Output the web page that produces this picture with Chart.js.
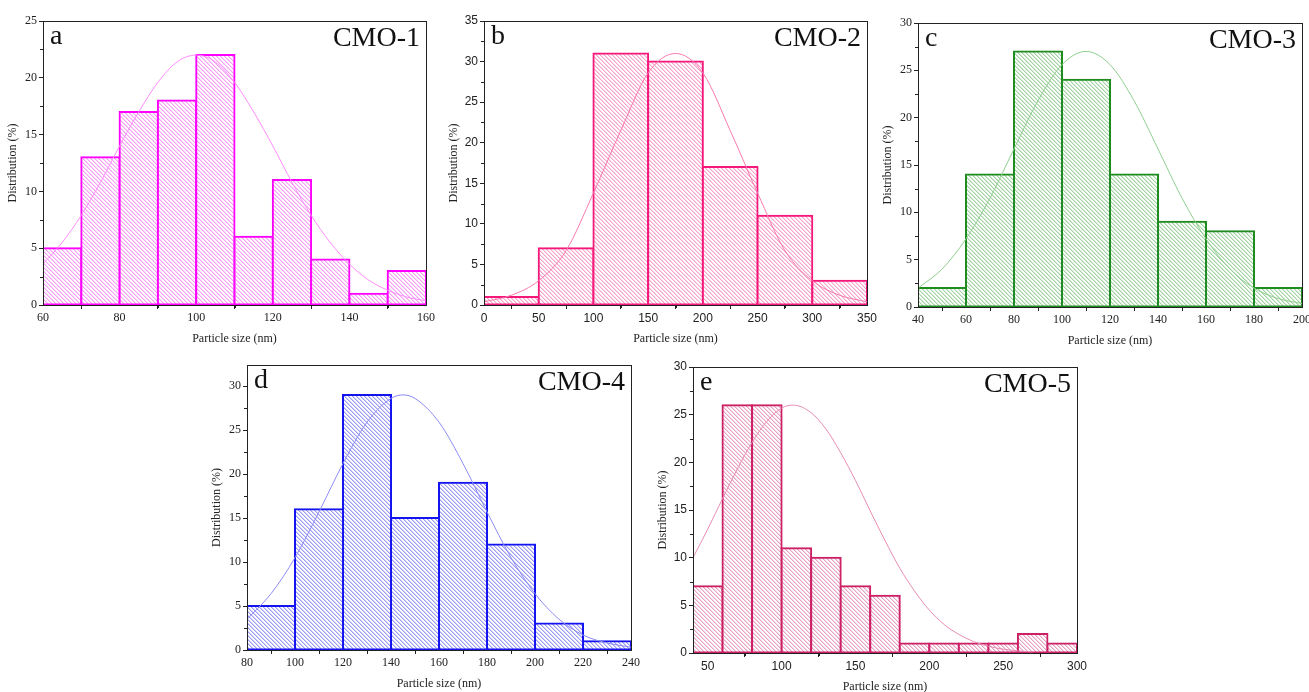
<!DOCTYPE html>
<html>
<head>
<meta charset="utf-8">
<script src="https://cdn.jsdelivr.net/npm/chart.js@4.4.1/dist/chart.umd.min.js"></script>
<style>
  body { margin: 0; background: #fff; width: 1309px; height: 692px; overflow: hidden; position: relative; }
  .panel { position: absolute; }
</style>
</head>
<body>
<div class="panel" id="boxA"><canvas id="chartA"></canvas></div>
<div class="panel" id="boxB"><canvas id="chartB"></canvas></div>
<div class="panel" id="boxC"><canvas id="chartC"></canvas></div>
<div class="panel" id="boxD"><canvas id="chartD"></canvas></div>
<div class="panel" id="boxE"><canvas id="chartE"></canvas></div>
<script>
// ---- data ----
// CMO-1
const aBins = [60, 70, 80, 90, 100, 110, 120, 130, 140, 150];
const aCounts = [5, 13, 17, 18, 22, 6, 11, 4, 1, 3];
const aFitX = [60, 65, 70, 75, 80, 85, 90, 95, 100, 105, 110, 115, 120, 125, 130, 135, 140, 145, 150, 155, 160];
const aFitY = [3.6, 5.5, 7.9, 10.8, 14.0, 17.0, 19.6, 21.4, 22, 21.4, 19.6, 17.0, 14.0, 10.8, 7.9, 5.5, 3.6, 2.2, 1.3, 0.7, 0.37];
const aTicksX = [60, 80, 100, 120, 140, 160];
const aTicksY = [0, 5, 10, 15, 20, 25];

// CMO-2
const bBins = [0, 50, 100, 150, 200, 250, 300];
const bCounts = [1, 7, 31, 30, 17, 11, 3];
const bFitX = [0, 25, 50, 75, 100, 125, 150, 175, 200, 225, 250, 275, 300, 325, 350];
const bFitY = [0.4, 1.2, 3.0, 6.7, 13.8, 21.5, 28.6, 31, 28.6, 21.5, 13.8, 6.7, 3.0, 1.2, 0.4];
const bTicksX = [0, 50, 100, 150, 200, 250, 300, 350];
const bTicksY = [0, 5, 10, 15, 20, 25, 30, 35];

// CMO-3
const cBins = [40, 60, 80, 100, 120, 140, 160, 180];
const cCounts = [2, 14, 27, 24, 14, 9, 8, 2];
const cFitX = [40, 50, 60, 70, 80, 90, 100, 110, 120, 130, 140, 150, 160, 170, 180, 190, 200];
const cFitY = [2.0, 4.0, 7.2, 11.5, 16.7, 21.8, 25.6, 27, 25.6, 21.8, 16.7, 11.5, 7.2, 4.0, 2.0, 0.9, 0.37];
const cTicksX = [40, 60, 80, 100, 120, 140, 160, 180, 200];
const cTicksY = [0, 5, 10, 15, 20, 25, 30];

// CMO-4
const dBins = [80, 100, 120, 140, 160, 180, 200, 220];
const dCounts = [5, 16, 29, 15, 19, 12, 3, 1];
const dFitX = [80, 90, 100, 110, 120, 130, 140, 145, 150, 160, 170, 180, 190, 200, 210, 220, 230, 240];
const dFitY = [3.5, 6.4, 10.5, 15.7, 21.2, 25.9, 28.6, 29, 28.6, 25.9, 21.2, 15.7, 10.5, 6.4, 3.5, 1.7, 0.8, 0.32];
const dTicksX = [80, 100, 120, 140, 160, 180, 200, 220, 240];
const dTicksY = [0, 5, 10, 15, 20, 25, 30];

// CMO-5
const eBins = [40, 60, 80, 100, 120, 140, 160, 180, 200, 220, 240, 260, 280];
const eCounts = [7, 26, 26, 11, 10, 7, 6, 1, 1, 1, 1, 2, 1];
const eFitX = [40, 50, 60, 70, 80, 90, 100, 108, 120, 130, 140, 150, 160, 170, 180, 190, 200, 210, 220, 230, 240, 250, 260, 270];
const eFitY = [10.0, 13.0, 16.2, 19.3, 22.1, 24.3, 25.7, 26, 25.2, 23.5, 21.0, 18.1, 14.9, 11.8, 8.9, 6.5, 4.5, 3.0, 1.95, 1.2, 0.71, 0.4, 0.22, 0.11];
const eTicksX = [50, 100, 150, 200, 250, 300];
const eTicksY = [0, 5, 10, 15, 20, 25, 30];

const SERIF = '"Liberation Serif", "Times New Roman", serif';
const SANS = '"Liberation Sans", Arial, sans-serif';

// diagonal "\" hatch used to fill the bars, drawn pixel by pixel so it stays crisp
function hatch(line, soft) {
    const c = document.createElement('canvas');
    c.width = 4; c.height = 4;
    const g = c.getContext('2d');
    g.fillStyle = '#fff';
    g.fillRect(0, 0, 4, 4);
    for (let i = 0; i < 4; i++) {
        g.fillStyle = line;
        g.fillRect(i, i, 1, 1);
        g.fillStyle = soft;
        g.fillRect((i + 1) % 4, i, 1, 1);
    }
    return g.createPattern(c, 'repeat');
}

// frame, minor ticks and the panel letters
const framePlugin = {
    id: 'frame',
    afterDraw(chart, args, opts) {
        const { ctx, chartArea: a, scales } = chart;
        ctx.save();
        ctx.strokeStyle = '#222';
        ctx.lineWidth = 1;
        ctx.strokeRect(a.left + 0.5, a.top + 0.5, a.right - a.left, a.bottom - a.top);
        // minor ticks half way between the labelled ones
        ctx.beginPath();
        const xt = scales.x.ticks.map(t => t.value);
        for (let i = 0; i < xt.length - 1; i++) {
            const px = Math.round(scales.x.getPixelForValue((xt[i] + xt[i + 1]) / 2)) + 0.5;
            ctx.moveTo(px, a.bottom); ctx.lineTo(px, a.bottom + 3);
        }
        const yt = scales.y.ticks.map(t => t.value);
        for (let i = 0; i < yt.length - 1; i++) {
            const py = Math.round(scales.y.getPixelForValue((yt[i] + yt[i + 1]) / 2)) + 0.5;
            ctx.moveTo(a.left, py); ctx.lineTo(a.left - 3, py);
        }
        ctx.stroke();
        ctx.fillStyle = '#111';
        ctx.font = '28px ' + SERIF;
        ctx.textBaseline = 'alphabetic';
        ctx.textAlign = 'left';
        ctx.fillText(opts.letter, a.left + 7, a.top + 23);
        ctx.textAlign = 'right';
        ctx.fillText(opts.name, a.right - 6, a.top + 25);
        ctx.restore();
    }
};

const PAD_TOP = 20, PAD_RIGHT = 13, Y_W = 38, X_H = 44;

function makePanel(boxId, canvasId, p) {
    const w = p.right - p.left, h = p.bottom - p.top;
    const box = document.getElementById(boxId);
    box.style.left = (p.left - Y_W) + 'px';
    box.style.top = (p.top - PAD_TOP) + 'px';
    box.style.width = (Y_W + w + PAD_RIGHT) + 'px';
    box.style.height = (PAD_TOP + h + X_H) + 'px';

    const half = (p.bins[1] - p.bins[0]) / 2;
    const bars = p.bins.map((b, i) => ({ x: b + half, y: p.counts[i] }));
    const fit = p.fitX.map((x, i) => ({ x: x, y: p.fitY[i] }));
    const tickFont = { family: p.tickFont, size: 12 };

    new Chart(document.getElementById(canvasId), {
        type: 'bar',
        data: {
            datasets: [{
                type: 'line',
                data: fit,
                borderColor: p.curve,
                borderWidth: 1,
                pointRadius: 0,
                cubicInterpolationMode: 'monotone',
                order: 0
            }, {
                data: bars,
                backgroundColor: hatch(p.fill, p.soft),
                borderColor: p.edge,
                borderWidth: 2,
                inflateAmount: 1,
                borderSkipped: false,
                barPercentage: 1,
                categoryPercentage: 1,
                order: 1
            }]
        },
        options: {
            responsive: true,
            maintainAspectRatio: false,
            animation: false,
            layout: { padding: { top: PAD_TOP, right: PAD_RIGHT, left: 0, bottom: 0 } },
            plugins: {
                legend: { display: false },
                tooltip: { enabled: false },
                frame: { letter: p.letter, name: p.name }
            },
            scales: {
                x: {
                    type: 'linear',
                    min: p.xMin, max: p.xMax,
                    offset: false,
                    afterBuildTicks: s => { s.ticks = p.ticksX.map(v => ({ value: v })); },
                    afterFit: s => { s.height = X_H; },
                    grid: { drawOnChartArea: false, drawTicks: true, tickLength: 4, color: '#222' },
                    border: { display: true, color: '#222', width: 1 },
                    ticks: { font: tickFont, color: '#222', padding: 2, maxRotation: 0, autoSkip: false },
                    title: { display: true, text: 'Particle size (nm)', font: { family: SERIF, size: 12 }, color: '#222', padding: { top: 2, bottom: 3 } }
                },
                y: {
                    min: 0, max: p.yMax,
                    afterBuildTicks: s => { s.ticks = p.ticksY.map(v => ({ value: v })); },
                    afterFit: s => { s.width = Y_W; },
                    grid: { drawOnChartArea: false, drawTicks: true, tickLength: 4, color: '#222' },
                    border: { display: true, color: '#222', width: 1 },
                    ticks: { font: tickFont, color: '#222', padding: 2 },
                    title: { display: true, text: 'Distribution (%)', font: { family: SERIF, size: 12 }, color: '#222', padding: { top: 1, bottom: 2 } }
                }
            }
        },
        plugins: [framePlugin]
    });
}

makePanel('boxA', 'chartA', {
    left: 43, right: 426, top: 21, bottom: 305,
    bins: aBins, counts: aCounts, fitX: aFitX, fitY: aFitY, ticksX: aTicksX, ticksY: aTicksY,
    xMin: 60, xMax: 160, yMax: 25, letter: 'a', name: 'CMO-1', tickFont: SERIF,
    edge: '#ff00ff', fill: '#f7a0f7', soft: '#fbd2fb', curve: '#ff8cff'
});
makePanel('boxB', 'chartB', {
    left: 484, right: 867, top: 21, bottom: 305,
    bins: bBins, counts: bCounts, fitX: bFitX, fitY: bFitY, ticksX: bTicksX, ticksY: bTicksY,
    xMin: 0, xMax: 350, yMax: 35, letter: 'b', name: 'CMO-2', tickFont: SANS,
    edge: '#f5177a', fill: '#f7a3cb', soft: '#fbd3e6', curve: '#f77aae'
});
makePanel('boxC', 'chartC', {
    left: 918, right: 1302, top: 23, bottom: 307,
    bins: cBins, counts: cCounts, fitX: cFitX, fitY: cFitY, ticksX: cTicksX, ticksY: cTicksY,
    xMin: 40, xMax: 200, yMax: 30, letter: 'c', name: 'CMO-3', tickFont: SERIF,
    edge: '#1f8c1f', fill: '#a3d3a3', soft: '#d3ead3', curve: '#8fcf8f'
});
makePanel('boxD', 'chartD', {
    left: 247, right: 631, top: 365, bottom: 650,
    bins: dBins, counts: dCounts, fitX: dFitX, fitY: dFitY, ticksX: dTicksX, ticksY: dTicksY,
    xMin: 80, xMax: 240, yMax: 32.4, letter: 'd', name: 'CMO-4', tickFont: SERIF,
    edge: '#1414f0', fill: '#9c9cf2', soft: '#cfcff9', curve: '#8c8cf5'
});
makePanel('boxE', 'chartE', {
    left: 693, right: 1077, top: 367, bottom: 653,
    bins: eBins, counts: eCounts, fitX: eFitX, fitY: eFitY, ticksX: eTicksX, ticksY: eTicksY,
    xMin: 40, xMax: 300, yMax: 30, letter: 'e', name: 'CMO-5', tickFont: SANS,
    edge: '#cc1f66', fill: '#e8a3c3', soft: '#f4d3e2', curve: '#e68cb5'
});
</script>
</body>
</html>
